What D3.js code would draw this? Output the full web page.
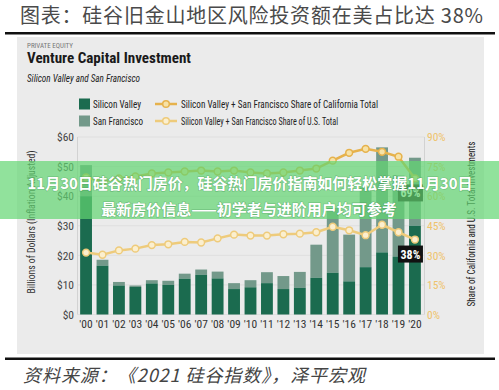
<!DOCTYPE html>
<html><head><meta charset="utf-8">
<script src="https://cdn.jsdelivr.net/npm/d3@7"></script>
<style>
html,body{margin:0;padding:0;background:#fff;}
svg{display:block;}
</style></head>
<body>
<script>
const years = ["'00","'01","'02","'03","'04","'05","'06","'07","'08","'09","'10","'11","'12","'13","'14","'15","'16","'17","'18","'19","'20"];
const siliconValley = [40,16.5,9.8,9.3,10.5,10,12.1,13.4,12.2,8.6,9.2,10.6,8.6,9.0,12.4,14.1,11.2,16.0,21.0,19.6,30];
const sanFrancisco  = [10.5,2,1.2,0.5,1.1,1.4,1.7,1.8,2.3,2,2.4,3.7,4.4,5.4,11.2,21.9,15.8,27,35.5,27.4,23];
const shareCalifornia = [69.5,67.5,69,70,71.5,72,72.5,73,72.5,73,72,71.5,72,73,74,78,82,84,82.5,80,69];
const shareUS = [31.4,30.3,32.5,33.4,35.2,35.6,36.8,36.5,38.6,40.5,40.0,40.0,40.7,41.0,41.7,44.5,42.7,40.2,45.5,41.7,38];
const leftTicks = [0,10,20,30,40,50,60];
const rightTicks = [0,15,30,45,60,75,90];

const W=499,H=390;
const narrow = "'Liberation Sans Narrow','Roboto Condensed','Open Sans',sans-serif";
const cjk = "'Noto Sans CJK SC','Noto Sans CJK JP',sans-serif";
const svg=d3.select("body").append("svg").attr("width",W).attr("height",H);

// title
svg.append("text").attr("x",20).attr("y",23).attr("font-family",cjk).attr("font-size",20)
  .attr("fill","#4a4a4a").attr("textLength",463).attr("lengthAdjust","spacing")
  .text("图表：硅谷旧金山地区风险投资额在美占比达 38%");
svg.append("rect").attr("x",5).attr("y",32).attr("width",490).attr("height",2.5).attr("fill","#111");

// panel
svg.append("rect").attr("x",17).attr("y",37).attr("width",467).attr("height",317).attr("fill","#ebebeb");
svg.append("rect").attr("x",5).attr("y",357.5).attr("width",490).attr("height",2.5).attr("fill","#111");

// header
svg.append("text").attr("x",27).attr("y",48).attr("font-family",narrow).attr("font-size",7).attr("fill","#777").text("PRIVATE EQUITY");
svg.append("text").attr("x",27).attr("y",63).attr("font-family",narrow).attr("font-size",14).attr("font-weight","bold").attr("fill","#1a1a1a")
  .attr("textLength",164).attr("lengthAdjust","spacingAndGlyphs").text("Venture Capital Investment");
svg.append("text").attr("x",27).attr("y",81.5).attr("font-family",narrow).attr("font-size",10).attr("font-style","italic").attr("fill","#222")
  .attr("textLength",113).attr("lengthAdjust","spacingAndGlyphs").text("Silicon Valley and San Francisco");

const cSV="#1b6b4f", cSF="#73998a", cCA="#e6b24c", cCAfill="#f7e2a6", cUS="#eecb7b", cUSfill="#fbefcf";

// legend
const lg=svg.append("g").attr("font-family",narrow).attr("font-size",10).attr("fill","#222");
lg.append("rect").attr("x",79).attr("y",98.5).attr("width",11).attr("height",11).attr("fill",cSV);
lg.append("rect").attr("x",79).attr("y",115.5).attr("width",11).attr("height",11).attr("fill",cSF);
lg.append("text").attr("x",93).attr("y",107.5).attr("textLength",48).attr("lengthAdjust","spacingAndGlyphs").text("Silicon Valley");
lg.append("text").attr("x",93).attr("y",124.5).attr("textLength",50).attr("lengthAdjust","spacingAndGlyphs").text("San Francisco");
[[104,cCA,cCAfill,"Silicon Valley + San Francisco Share of California Total",197],[121,cUS,cUSfill,"Silicon Valley + San Francisco Share of U.S. Total",157]].forEach(([y,c,f,t,w])=>{
  lg.append("line").attr("x1",155).attr("x2",177).attr("y1",y).attr("y2",y).attr("stroke",c).attr("stroke-width",2.5);
  lg.append("circle").attr("cx",166).attr("cy",y).attr("r",3.3).attr("fill",f).attr("stroke",c).attr("stroke-width",1.5);
  lg.append("text").attr("x",181).attr("y",y+3.5).attr("textLength",w).attr("lengthAdjust","spacingAndGlyphs").text(t);
});

// scales
const x=d3.scaleBand().domain(years).range([77.5,423.5]).paddingInner(0.28).paddingOuter(0.16);
const y=d3.scaleLinear().domain([0,60]).range([314.5,137]);
const y2=d3.scaleLinear().domain([0,90]).range([314.5,137]);

// grid & frame
const g=svg.append("g");
g.selectAll("line.grid").data(leftTicks).join("line").attr("class","grid")
  .attr("x1",77.5).attr("x2",424.5).attr("y1",d=>y(d)).attr("y2",d=>y(d)).attr("stroke","#dcdcdc").attr("stroke-width",0.8);
g.append("line").attr("x1",77.5).attr("x2",77.5).attr("y1",137).attr("y2",314.5).attr("stroke","#d2d2d2");
g.append("line").attr("x1",424.5).attr("x2",424.5).attr("y1",137).attr("y2",314.5).attr("stroke","#d2d2d2");

// axes
const yAxis=svg.append("g").attr("transform","translate(74,0)")
  .call(d3.axisLeft(y).tickValues(leftTicks).tickSize(0).tickPadding(0).tickFormat(d=>"$"+d));
yAxis.select(".domain").remove();
yAxis.selectAll("text").attr("font-family",narrow).attr("font-size",11.5).attr("fill","#444");

const y2Axis=svg.append("g").attr("transform","translate(427,0)")
  .call(d3.axisRight(y2).tickValues(rightTicks).tickSize(0).tickPadding(0).tickFormat(d=>d+"%"));
y2Axis.select(".domain").remove();
y2Axis.selectAll("text").attr("font-family",narrow).attr("font-size",11.5).attr("fill","#efc36c");

const xAxis=svg.append("g").attr("transform","translate(0,318)")
  .call(d3.axisBottom(x).tickSize(0).tickPadding(0));
xAxis.select(".domain").remove();
xAxis.selectAll("text").attr("font-family",narrow).attr("font-size",11.5).attr("fill","#333").attr("dy","0.9em");

// axis titles
svg.append("text").attr("transform","translate(35,222) rotate(-90)").attr("text-anchor","middle")
  .attr("font-family",narrow).attr("font-size",11).attr("fill","#333")
  .attr("textLength",143).attr("lengthAdjust","spacingAndGlyphs").text("Billions of Dollars (Inflation Adjusted)");
svg.append("text").attr("transform","translate(475,224) rotate(-90)").attr("text-anchor","middle")
  .attr("font-family",narrow).attr("font-size",11).attr("fill","#222")
  .attr("textLength",165).attr("lengthAdjust","spacingAndGlyphs").text("Share of California and U.S. Total Investments");

// bars
const bars=svg.append("g");
years.forEach((yr,i)=>{
  const sv=siliconValley[i], sf=sanFrancisco[i];
  bars.append("rect").attr("x",x(yr)).attr("width",x.bandwidth()).attr("y",y(sv+sf)).attr("height",y(sv)-y(sv+sf)).attr("fill",cSF);
  bars.append("rect").attr("x",x(yr)).attr("width",x.bandwidth()).attr("y",y(sv)).attr("height",y(0)-y(sv)).attr("fill",cSV);
});

// lines
const cx=d=>x(d)+x.bandwidth()/2;
[[shareCalifornia,cCA,cCAfill],[shareUS,cUS,cUSfill]].forEach(([vals,c,f])=>{
  const line=d3.line().x((d,i)=>cx(years[i])).y(d=>y2(d));
  svg.append("path").attr("d",line(vals)).attr("fill","none").attr("stroke",c).attr("stroke-width",2.5);
  svg.append("g").selectAll("circle").data(vals).join("circle")
    .attr("cx",(d,i)=>cx(years[i])).attr("cy",d=>y2(d)).attr("r",3.4).attr("fill",f).attr("stroke",c).attr("stroke-width",1.5);
});

// value labels
const last=years.length-1;
[[shareCalifornia[last]],[shareUS[last]]].forEach(([v])=>{
  const px=cx(years[last]), py=y2(v);
  svg.append("rect").attr("x",px-17).attr("y",py+6).attr("width",25).attr("height",17).attr("fill","#111");
  svg.append("text").attr("x",px-4.5).attr("y",py+19).attr("text-anchor","middle").attr("font-family",narrow)
    .attr("font-size",12).attr("font-weight","bold").attr("fill","#fff").text(Math.round(v)+"%");
});

// banner overlay
svg.append("rect").attr("x",0).attr("y",161).attr("width",W).attr("height",58).attr("fill","rgba(99,214,114,0.7)");
const bt=svg.append("g").attr("font-family",cjk).attr("font-size",15).attr("font-weight","bold").attr("fill","#fff")
  .attr("text-anchor","middle").style("paint-order","stroke").attr("stroke","rgba(40,120,60,0.35)").attr("stroke-width",1.2);
bt.append("text").attr("x",250).attr("y",189).attr("textLength",445).attr("lengthAdjust","spacingAndGlyphs").text("11月30日硅谷热门房价，硅谷热门房价指南如何轻松掌握11月30日");
bt.append("text").attr("x",249).attr("y",215).text("最新房价信息——初学者与进阶用户均可参考");

// source
svg.append("text").attr("x",23).attr("y",382).attr("font-family",cjk).attr("font-size",18).attr("font-style","italic")
  .attr("fill","#444").attr("textLength",342).attr("lengthAdjust","spacing").text("资料来源：《2021 硅谷指数》，泽平宏观");
</script>
</body></html>
